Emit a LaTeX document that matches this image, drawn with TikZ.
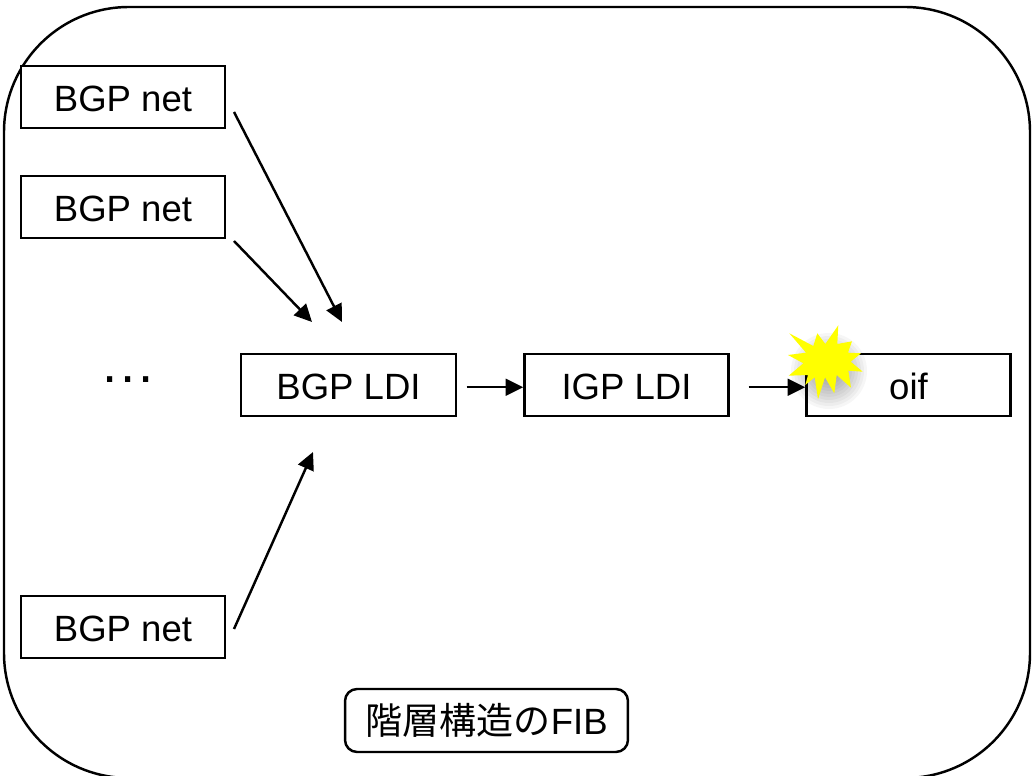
\documentclass[tikz,border=0pt]{standalone}
\usepackage{fontspec}
\setmainfont{Liberation Sans}
\newfontfamily\jpfont[Scale=1.015]{Noto Sans CJK JP}
\usetikzlibrary{arrows.meta}
\definecolor{burstyellow}{RGB}{255,255,0}
\tikzset{
    fibbox/.style={draw, line width=1.4pt, fill=white, minimum width=4.08cm, minimum height=1.24cm, inner sep=0pt, text height=16.6pt, text depth=0pt, font=\fontsize{20.8}{25}\selectfont},
    fiblabel/.style={draw, line width=1.4pt, rounded corners=0.24cm, minimum width=5.66cm, minimum height=1.26cm, inner sep=0pt, font=\fontsize{20.8}{25}\selectfont},
    fibarrow/.style={line width=1.4pt, -{Triangle[length=10pt, width=9.5pt]}}
}
\begin{document}
\begin{tikzpicture}[x=0.02cm, y=-0.02cm]
    \useasboundingbox (0,0) rectangle (1035,776);

    % Outer frame, runs past the bottom edge
    \draw[line width=1.4pt, rounded corners=2.5cm] (4,7) rectangle (1030,778);

    % BGP net entries
    \node[fibbox] (net1) at (123,97) {BGP net};
    \node[fibbox] (net2) at (123,207) {BGP net};
    \node[fibbox] (net3) at (123,627) {BGP net};
    \node[font=\fontsize{31}{36}\selectfont, inner sep=0pt] (dots) at (128,380) {.\kern1.6pt.\kern1.6pt.};

    % Load distribution chain
    \node[fibbox, minimum width=4.3cm] (bgpldi) at (348.5,385) {BGP LDI};
    \node[fibbox] (igpldi) at (626.5,385) {IGP LDI};
    \node[fibbox] (oif) at (908.5,385) {oif};

    % Free ends of the slanted arrows
    \coordinate (net1out) at (234,112);
    \coordinate (net2out) at (234,241);
    \coordinate (net3out) at (234,629);
    \coordinate (ldiin1) at (342,322);
    \coordinate (ldiin2) at (312,322);
    \coordinate (ldiin3) at (313,452);

    \draw[fibarrow] (net1out) -- (ldiin1);
    \draw[fibarrow] (net2out) -- (ldiin2);
    \draw[fibarrow] (net3out) -- (ldiin3);
    \draw[fibarrow, shorten <=0.19cm] ([yshift=-0.045cm]bgpldi.east) -- ([yshift=-0.045cm]igpldi.west);
    \draw[fibarrow, shorten <=0.38cm] ([yshift=-0.045cm]igpldi.east) -- ([yshift=-0.045cm]oif.west);

    % Failure mark on oif, soft shadow first
    \foreach \r in {8,11,...,38} {
        \fill[black, opacity=0.035] (829,371) circle (\r*0.02cm);
    }
    \fill[burstyellow] (789.3,333.3) -- (813.3,346) -- (817.3,333.3) -- (825.3,344) -- (838.3,325.3) -- (837.3,344) -- (852,341.3) -- (848,352.7) -- (861,353.3) -- (850.7,361.7) -- (862.7,371.7) -- (848.3,370.7) -- (851,387.7) -- (836.7,375) -- (834.3,393.3) -- (825,377.3) -- (818,399.3) -- (814.7,377.3) -- (805.3,385) -- (808,375) -- (788.7,375.7) -- (803.3,363.3) -- (788,355) -- (806,352.7) -- cycle;

    % Caption
    \node[fiblabel] (caption) at (486.5,720.5) {{\jpfont 階層構造の}FIB};

\end{tikzpicture}
\end{document}
